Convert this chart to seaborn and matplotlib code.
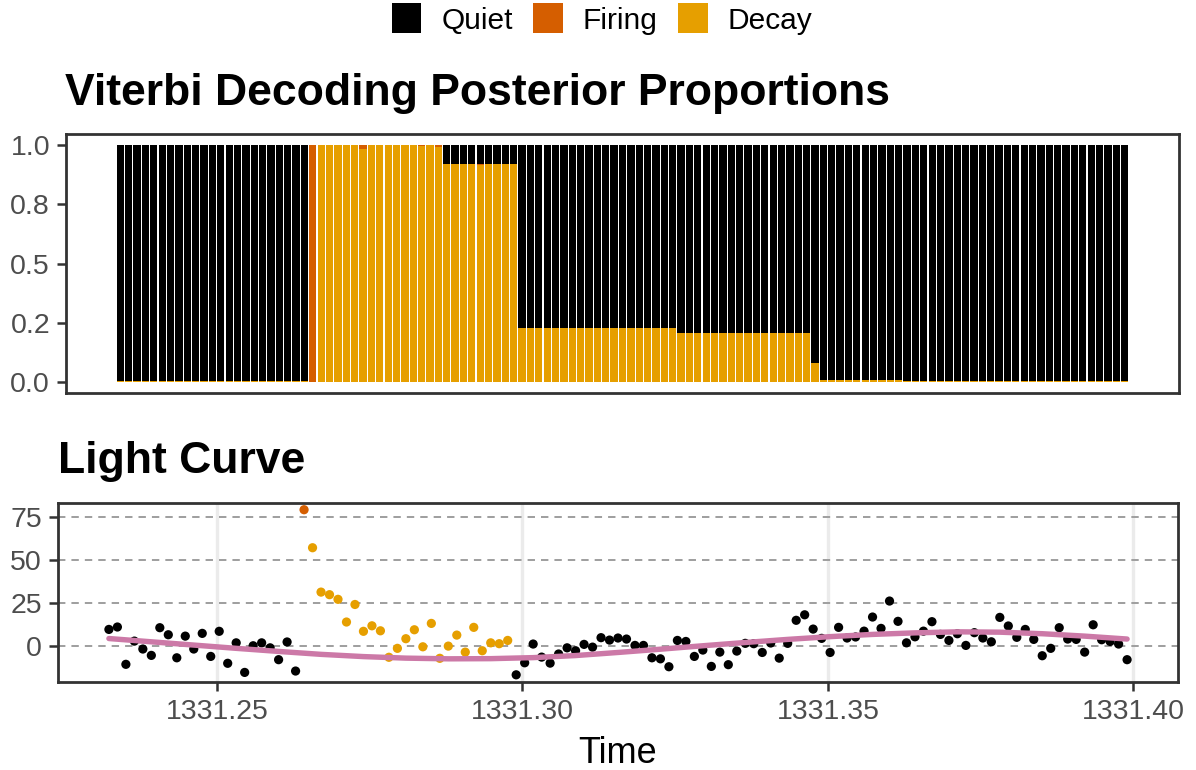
import numpy as np
import pandas as pd
import matplotlib
matplotlib.use("Agg")
import matplotlib.pyplot as plt
from matplotlib.patches import Patch
import seaborn as sns

# ---- data -------------------------------------------------------------
states = ["Quiet", "Firing", "Decay"]
state_colors = {"Quiet": "#000000", "Firing": "#D55E00", "Decay": "#E69F00"}
fit_color = "#CC79A7"

t_start = 1331.2323          # first cadence (days)
cadence = 2.0 / 1440.0       # 2-minute cadence (days)
n_obs = 121

# posterior proportion of the Decay and Firing states per cadence
decay_prop = [
    0.004, 0.004, 0.004, 0.004, 0.004, 0.004, 0.004, 0.004, 0.004, 0.004,
    0.004, 0.004, 0.004, 0.004, 0.004, 0.004, 0.004, 0.004, 0.004, 0.004,
    0.004, 0.004, 0.004, 0.000, 1.000, 1.000, 1.000, 1.000, 1.000, 0.983,
    1.000, 1.000, 1.000, 1.000, 1.000, 1.000, 0.996, 1.000, 0.992, 0.920,
    0.920, 0.920, 0.920, 0.916, 0.920, 0.920, 0.920, 0.920, 0.230, 0.230,
    0.230, 0.230, 0.230, 0.230, 0.230, 0.230, 0.230, 0.230, 0.230, 0.230,
    0.230, 0.230, 0.230, 0.230, 0.230, 0.230, 0.230, 0.205, 0.205, 0.205,
    0.205, 0.205, 0.205, 0.205, 0.205, 0.205, 0.205, 0.205, 0.205, 0.205,
    0.205, 0.205, 0.205, 0.079, 0.008, 0.008, 0.008, 0.008, 0.008, 0.008,
    0.008, 0.008, 0.008, 0.008, 0.004, 0.004, 0.004, 0.004, 0.004, 0.004,
    0.004, 0.004, 0.004, 0.004, 0.004, 0.004, 0.004, 0.004, 0.004, 0.004,
    0.004, 0.004, 0.004, 0.004, 0.004, 0.004, 0.004, 0.004, 0.004, 0.004,
    0.004,
]
firing_prop = [
    0, 0, 0, 0, 0, 0, 0, 0, 0, 0,
    0, 0, 0, 0, 0, 0, 0, 0, 0, 0,
    0, 0, 0, 1.0, 0, 0, 0, 0, 0, 0.017,
    0, 0, 0, 0, 0, 0, 0.004, 0, 0.008, 0,
    0, 0, 0, 0.004, 0, 0, 0, 0, 0, 0,
    0, 0, 0, 0, 0, 0, 0, 0, 0, 0,
    0, 0, 0, 0, 0, 0, 0, 0.004, 0.004, 0.004,
    0.004, 0.004, 0.004, 0.004, 0.004, 0.004, 0.004, 0.004, 0.004, 0.004,
    0.004, 0.004, 0.004, 0, 0, 0, 0, 0, 0, 0,
    0, 0, 0, 0, 0, 0, 0, 0, 0, 0,
    0, 0, 0, 0, 0, 0, 0, 0, 0, 0,
    0, 0, 0, 0, 0, 0, 0, 0, 0, 0,
    0,
]

# detrended flux per cadence
flux = [
    9.5, 10.9, -10.8, 2.7, -1.9, -5.6, 10.5, 6.4, -7.0, 5.6,
    -1.9, 7.2, -6.2, 8.4, -10.2, 1.7, -15.5, 0.0, 1.7, -1.2,
    -8.1, 2.2, -14.7, 79.1, 57.0, 31.2, 29.7, 27.0, 13.8, 24.0,
    8.4, 11.6, 8.7, -6.7, -1.5, 4.1, 9.3, -0.6, 13.0, -7.3,
    -0.2, 6.2, -3.7, 10.7, -2.9, 1.7, 1.2, 3.1, -16.9, -9.9,
    1.0, -6.6, -10.1, -4.8, -1.2, -2.9, 0.8, -0.8, 4.7, 3.3,
    4.5, 3.9, 0.2, 0.2, -7.0, -7.6, -12.2, 3.1, 2.5, -6.2,
    -2.5, -12.0, -3.7, -11.0, -3.1, 1.4, 1.2, -3.9, 1.6, -7.2,
    1.4, 14.8, 18.0, 9.7, 4.3, -3.9, 10.7, 4.5, 5.1, 8.5,
    16.7, 10.1, 26.0, 14.2, 1.7, 5.2, 8.5, 14.0, 6.6, 3.1,
    7.0, 0.2, 7.6, 4.5, 2.3, 16.5, 11.5, 4.9, 9.5, 3.7,
    -5.8, -1.5, 10.5, 3.9, 3.7, -3.7, 12.2, 3.5, 2.5, 1.0,
    -8.1,
]

# sinusoidal baseline model, sampled every fifth cadence
fit_step = 5
fit_flux = [
    4.2, 2.3, 0.4, -1.5, -3.3, -5.0, -6.3, -7.2, -7.6, -7.5,
    -6.9, -5.7, -3.9, -2.0, 0.0, 1.9, 3.7, 5.3, 6.6, 7.5,
    8.1, 7.9, 7.0, 5.6, 3.9,
]

x_ticks = [1331.25, 1331.30, 1331.35, 1331.40]
x_tick_labels = ["1331.25", "1331.30", "1331.35", "1331.40"]
prop_ticks = [0.0, 0.25, 0.5, 0.75, 1.0]
prop_tick_labels = ["0.0", "0.2", "0.5", "0.8", "1.0"]
flux_ticks = [0, 25, 50, 75]

# ---- tidy frames ----------------------------------------------------------
time = t_start + np.arange(n_obs) * cadence
decay = np.array(decay_prop)
firing = np.array(firing_prop)
quiet = 1.0 - decay - firing
post = pd.DataFrame({"time": time, "Quiet": quiet, "Firing": firing, "Decay": decay})
post["state"] = post[states].idxmax(axis=1)

lc = pd.DataFrame({"time": time, "flux": flux, "state": post["state"]})
fit = pd.DataFrame({"time": time[::fit_step], "flux": fit_flux})

# ---- style ----------------------------------------------------------------
sns.set_theme(style="white")
plt.rcParams["font.family"] = ["Liberation Sans", "DejaVu Sans"]
plt.rcParams["text.color"] = "black"
tick_grey = "#4D4D4D"
frame_grey = "#333333"
tick_size = 20.5

W, H = 1196, 770
fig = plt.figure(figsize=(W / 100, H / 100), dpi=100)
fig.patch.set_facecolor("white")


def px_axes(left, top, right, bottom):
    return fig.add_axes([left / W, 1 - bottom / H, (right - left) / W, (bottom - top) / H])


ax1 = px_axes(66, 134, 1179, 393)
ax2 = px_axes(58, 502.5, 1178, 681.7)

for ax in (ax1, ax2):
    for s in ax.spines.values():
        s.set_color(frame_grey)
        s.set_linewidth(2.0)
        s.set_visible(True)
    ax.tick_params(axis="y", colors=frame_grey, labelcolor=tick_grey, labelsize=tick_size,
                   length=6.5, width=1.8, pad=5, left=True)

# ---- top: stacked posterior proportions -----------------------------------
bar_w = 0.87 * cadence
ax1.bar(post["time"], post["Decay"], width=bar_w, color=state_colors["Decay"],
        linewidth=0)
ax1.bar(post["time"], post["Firing"], width=bar_w, bottom=post["Decay"],
        color=state_colors["Firing"], linewidth=0)
ax1.bar(post["time"], post["Quiet"], width=bar_w,
        bottom=post["Decay"] + post["Firing"], color=state_colors["Quiet"], linewidth=0)

lo = time[0] - 0.45 * cadence
hi = time[-1] + 0.45 * cadence
pad = 0.05 * (hi - lo)
ax1.set_xlim(lo - pad, hi + pad)
ax1.set_ylim(-0.046, 1.046)
ax1.set_xticks([])
ax1.set_yticks(prop_ticks)
ax1.set_yticklabels(prop_tick_labels)
ax1.set_xlabel("")
ax1.set_ylabel("")
ax1.grid(False)

# ---- bottom: light curve ----------------------------------------------------
for xv in x_ticks:
    ax2.axvline(xv, color="#EBEBEB", linewidth=2.4, zorder=0)
for yv in flux_ticks:
    ax2.axhline(yv, color="#9E9E9E", linewidth=1.4, linestyle=(0, (3.8, 3.1)), zorder=0.5)

sns.scatterplot(data=lc, x="time", y="flux", hue="state", hue_order=states,
                palette=state_colors, s=44, linewidth=0, legend=False, ax=ax2, zorder=2)
sns.lineplot(data=fit, x="time", y="flux", color=fit_color, linewidth=3.9,
             ax=ax2, zorder=3)

span = time[-1] - time[0]
ax2.set_xlim(time[0] - 0.05 * span, time[-1] + 0.05 * span)
ax2.set_ylim(-20.9, 83.3)
ax2.set_xticks(x_ticks)
ax2.set_xticklabels(x_tick_labels)
ax2.set_yticks(flux_ticks)
ax2.tick_params(axis="x", colors=frame_grey, labelcolor=tick_grey, labelsize=tick_size,
                length=6.5, width=1.8, pad=6, bottom=True)
ax2.set_xlabel("")
ax2.set_ylabel("")
ax2.grid(False)

# ---- titles, axis label, legend -------------------------------------------
fig.text(65 / W, 1 - 105 / H, "Viterbi Decoding Posterior Proportions",
         fontsize=32, fontweight="bold", color="black", ha="left", va="baseline")
fig.text(58 / W, 1 - 473 / H, "Light Curve",
         fontsize=32, fontweight="bold", color="black", ha="left", va="baseline")
fig.text(618 / W, 1 - 763 / H, "Time", fontsize=26, color="black",
         ha="center", va="baseline")

handles = [Patch(facecolor=state_colors[s], edgecolor="none", label=s) for s in states]
leg = fig.legend(handles=handles, loc="center", bbox_to_anchor=(602 / W, 1 - 19 / H),
                 ncol=3, frameon=False, fontsize=21.5, handlelength=1.0, handleheight=1.17,
                 handletextpad=0.67, columnspacing=0.67, borderpad=0, borderaxespad=0)
for txt in leg.get_texts():
    txt.set_color("black")

fig.savefig("out.png", dpi=100, facecolor="white")
